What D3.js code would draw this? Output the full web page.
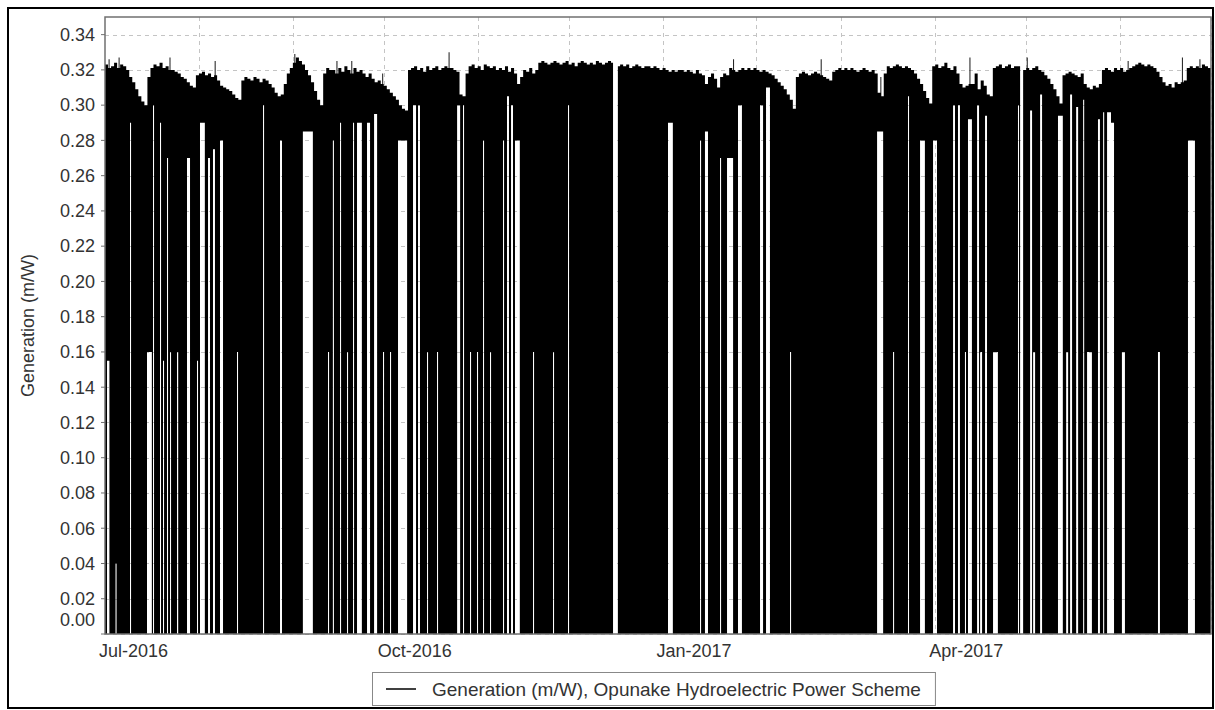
<!DOCTYPE html>
<html>
<head>
<meta charset="utf-8">
<script src="https://cdn.jsdelivr.net/npm/d3@7/dist/d3.min.js"></script>
<style>
  body { margin: 0; background: #fff; }
  text { font-family: "Liberation Sans", Arial, sans-serif; }
</style>
</head>
<body>
<svg id="chart" width="1215" height="710"></svg>
<script>
// daily peak generation (MW), one value per day from 1 Jul 2016
const peak = [
  0.323,0.321,0.322,0.324,0.321,0.323,0.322,0.320,0.316,0.313,
  0.309,0.305,0.302,0.300,0.316,0.321,0.323,0.322,0.324,0.321,
  0.322,0.320,0.320,0.319,0.318,0.316,0.315,0.313,0.311,0.310,
  0.317,0.318,0.319,0.317,0.318,0.316,0.317,0.314,0.311,0.310,
  0.309,0.308,0.306,0.304,0.303,0.314,0.316,0.315,0.314,0.316,
  0.315,0.313,0.315,0.314,0.312,0.310,0.307,0.305,0.306,0.312,
  0.318,0.321,0.324,0.327,0.325,0.323,0.320,0.317,0.313,0.308,
  0.303,0.300,0.318,0.321,0.320,0.320,0.318,0.321,0.319,0.322,
  0.320,0.318,0.321,0.319,0.320,0.318,0.316,0.318,0.315,0.313,
  0.314,0.312,0.311,0.309,0.307,0.305,0.303,0.300,0.298,0.297,
  0.320,0.321,0.322,0.320,0.321,0.319,0.322,0.320,0.321,0.322,
  0.320,0.321,0.322,0.321,0.321,0.320,0.319,0.306,0.305,0.318,
  0.322,0.323,0.321,0.322,0.320,0.323,0.322,0.321,0.322,0.320,
  0.321,0.320,0.322,0.319,0.321,0.318,0.312,0.316,0.320,0.319,
  0.321,0.318,0.320,0.324,0.325,0.324,0.323,0.324,0.325,0.324,
  0.323,0.324,0.325,0.323,0.324,0.322,0.324,0.325,0.324,0.323,
  0.324,0.323,0.325,0.324,0.323,0.324,0.325,0.324,0.323,0.322,
  0.323,0.322,0.323,0.321,0.322,0.323,0.322,0.321,0.322,0.322,
  0.321,0.322,0.321,0.320,0.321,0.320,0.319,0.320,0.319,0.320,
  0.320,0.319,0.320,0.319,0.318,0.320,0.318,0.317,0.312,0.316,
  0.318,0.315,0.310,0.316,0.318,0.317,0.321,0.320,0.319,0.320,
  0.321,0.320,0.321,0.320,0.321,0.320,0.319,0.320,0.319,0.318,
  0.317,0.315,0.313,0.311,0.309,0.306,0.303,0.298,0.316,0.318,
  0.319,0.318,0.317,0.318,0.319,0.318,0.317,0.316,0.315,0.314,
  0.319,0.320,0.321,0.320,0.321,0.320,0.321,0.320,0.319,0.320,
  0.321,0.320,0.319,0.320,0.318,0.307,0.305,0.318,0.322,0.321,
  0.322,0.323,0.322,0.321,0.322,0.321,0.320,0.318,0.315,0.312,
  0.308,0.304,0.301,0.322,0.323,0.321,0.322,0.324,0.321,0.320,
  0.322,0.318,0.312,0.310,0.311,0.312,0.312,0.318,0.309,0.314,
  0.311,0.306,0.305,0.321,0.322,0.323,0.321,0.322,0.323,0.321,
  0.322,0.322,0.321,0.320,0.321,0.320,0.321,0.322,0.320,0.319,
  0.317,0.315,0.312,0.309,0.305,0.301,0.317,0.318,0.319,0.318,
  0.317,0.316,0.318,0.312,0.310,0.309,0.311,0.310,0.312,0.320,
  0.321,0.320,0.319,0.321,0.320,0.321,0.319,0.320,0.321,0.322,
  0.323,0.324,0.323,0.322,0.323,0.322,0.321,0.319,0.316,0.313,
  0.311,0.312,0.310,0.313,0.312,0.313,0.314,0.321,0.322,0.321,
  0.322,0.321,0.323,0.322,0.321
];

// short peaks above the daily level: day (after 1 Jul 2016) and value (MW)
const spikeDay = [1.2,4.5,21.3,36.2,62.5,76.4,81.3,91.5,113.4,207.3,236.2,255.9,285.3,304.2,337.5,355.4,361.2];
const spikeVal = [0.326,0.327,0.327,0.325,0.329,0.325,0.325,0.318,0.330,0.326,0.326,0.316,0.327,0.327,0.325,0.327,0.326];

// periods where output did not fall to zero: start (days after 1 Jul 2016), length (days), lowest level (MW); null = no data
const gapStart = [0.66,3.47,8.25,13.86,15.84,18.15,19.14,20.46,21.45,23.76,27.06,30.36,31.35,34.0,35.64,37.95,43.56,52.15,57.76,65.3,
  73.6,75.2,77.56,79.87,81.85,83.17,86.47,88.8,91.75,94.06,96.7,101.65,103.3,106.27,109.57,116.2,118.15,120.46,122.77,124.75,
  127.06,131.35,132.67,134.0,135.3,141.25,147.85,152.8,167.66,185.8,196.37,198.0,202.97,205.28,208.9,216.17,218.15,226.07,254.8,260.07,
  265.0,268.98,273.27,279.87,281.5,283.8,284.8,287.8,288.8,290.43,293.07,301.3,302.0,305.3,306.3,308.6,314.5,317.2,318.5,320.5,
  322.8,324.1,327.7,329.4,330.7,332.0,335.6,347.5,357.4];
const gapLen = [0.8,0.35,0.35,1.6,0.35,0.35,0.35,0.35,0.35,0.4,1.0,0.35,1.6,0.65,0.65,1.0,0.35,0.35,0.65,3.3,
  0.35,0.35,0.35,0.35,0.35,1.6,1.0,1.0,0.35,0.35,3.0,1.0,0.65,0.35,0.35,1.0,0.35,0.35,0.35,0.35,
  0.35,0.35,0.65,0.65,1.6,0.35,0.35,0.35,1.6,1.6,0.35,1.0,0.35,2.0,1.3,1.0,1.3,0.35,2.0,0.35,
  0.35,1.6,1.3,0.65,0.65,0.35,1.3,0.65,0.65,0.65,1.6,0.35,1.0,0.65,0.65,0.65,1.6,0.65,0.65,0.65,
  0.35,1.6,0.65,0.35,1.6,1.0,1.0,0.65,2.3];
const gapFloor = [0.155,0.040,0.290,0.160,0.300,0.290,0.155,0.270,0.160,0.160,0.270,0.155,0.290,0.270,0.275,0.280,0.160,0.300,0.280,0.285,
  0.160,0.280,0.290,0.160,0.290,0.290,0.290,0.295,0.160,0.160,0.280,0.300,0.300,0.160,0.160,0.300,0.300,0.160,0.160,0.280,
  0.160,0.280,0.305,0.300,0.280,0.160,0.160,0.300,null,0.290,0.280,0.285,0.270,0.270,0.300,0.300,0.310,0.160,0.285,0.160,
  0.305,0.280,0.280,0.300,0.300,0.160,0.292,0.300,0.160,0.294,0.160,0.300,null,0.297,0.160,0.306,0.294,0.160,0.306,0.299,
  0.303,0.160,0.292,0.296,0.296,0.290,0.160,0.160,0.280];

const yTicks = [0,0.02,0.04,0.06,0.08,0.10,0.12,0.14,0.16,0.18,0.20,0.22,0.24,0.26,0.28,0.30,0.32,0.34];
const xTickDates = ["2016-07-01","2016-10-01","2017-01-01","2017-04-01"];
const xTickLabels = ["Jul-2016","Oct-2016","Jan-2017","Apr-2017"];
const seriesName = "Generation (m/W), Opunake Hydroelectric Power Scheme";

const svg = d3.select("#chart");
const plotL = 105, plotR = 1211, plotT = 17, plotB = 634;
const t0 = Date.UTC(2016, 6, 1), DAY = 86400000;
const spikeW = 0.3;

const x = d3.scaleUtc().domain([new Date(t0), new Date(Date.UTC(2017, 6, 1))]).range([plotL, plotR]);
const y = d3.scaleLinear().domain([0, 0.35]).range([plotB, plotT]);
const xd = d => x(new Date(t0 + d * DAY));

// outer frame
svg.append("rect").attr("width", 1215).attr("height", 710).attr("fill", "#fff");
svg.append("rect").attr("x", 8).attr("y", 8).attr("width", 1205).attr("height", 700)
  .attr("fill", "none").attr("stroke", "#000").attr("stroke-width", 2);

// grid
svg.append("g").selectAll("line").data(yTicks).join("line")
  .attr("x1", plotL).attr("x2", plotR)
  .attr("y1", d => Math.round(y(d)) + 0.5).attr("y2", d => Math.round(y(d)) + 0.5)
  .attr("stroke", "#c4c4c4").attr("stroke-dasharray", "4,4");
svg.append("g").selectAll("line").data(x.ticks(d3.utcMonth.every(1)).slice(1)).join("line")
  .attr("x1", d => Math.round(x(d)) + 0.5).attr("x2", d => Math.round(x(d)) + 0.5)
  .attr("y1", plotT).attr("y2", plotB)
  .attr("stroke", "#c4c4c4").attr("stroke-dasharray", "4,4");

// build min/max intervals from the daily peaks, spikes and the gap list
let cuts = d3.range(0, peak.length + 1);
gapStart.forEach((s, i) => { cuts.push(s, s + gapLen[i]); });
spikeDay.forEach(s => { cuts.push(s, s + spikeW); });
cuts = Array.from(new Set(cuts.map(c => +c.toFixed(3)))).sort((a, b) => a - b);
const pts = [];
for (let i = 0; i < cuts.length - 1; i++) {
  const a = cuts[i], b = cuts[i + 1], m = (a + b) / 2;
  let hi = peak[Math.min(peak.length - 1, Math.floor(m))];
  spikeDay.forEach((s, k) => { if (m > s && m < s + spikeW) hi = spikeVal[k]; });
  let lo = 0, ok = true;
  gapStart.forEach((s, k) => {
    if (m > s && m < s + gapLen[k]) {
      if (gapFloor[k] === null) ok = false;
      else lo = Math.min(gapFloor[k], hi - 0.004);
    }
  });
  pts.push({ t: a, lo, hi, ok }, { t: b, lo, hi, ok });
}

const area = d3.area()
  .defined(d => d.ok)
  .x(d => xd(d.t))
  .y0(d => y(d.lo))
  .y1(d => y(d.hi));

svg.append("path").datum(pts).attr("d", area).attr("fill", "#000");

// plot frame
svg.append("rect").attr("x", plotL).attr("y", plotT).attr("width", plotR - plotL).attr("height", plotB - plotT)
  .attr("fill", "none").attr("stroke", "#707070").attr("stroke-width", 1.5);

// y axis
const ya = svg.append("g");
ya.selectAll("line").data(yTicks).join("line")
  .attr("x1", plotL - 4).attr("x2", plotL)
  .attr("y1", d => y(d)).attr("y2", d => y(d))
  .attr("stroke", "#707070");
ya.selectAll("text").data(yTicks).join("text")
  .attr("x", 95).attr("y", d => y(d) + (d === 0 ? -14 : 0))
  .attr("dy", "0.35em").attr("text-anchor", "end")
  .attr("font-size", 18).attr("fill", "#333")
  .text(d => d3.format(".2f")(d));

svg.append("text")
  .attr("transform", `translate(28,${(plotT + plotB) / 2}) rotate(-90)`)
  .attr("text-anchor", "middle").attr("dy", "0.35em")
  .attr("font-size", 18).attr("fill", "#333")
  .text("Generation (m/W)");

// x axis labels
svg.append("g").selectAll("text").data(xTickDates).join("text")
  .attr("x", d => x(new Date(d + "T00:00:00Z")) - 6)
  .attr("y", 657)
  .attr("font-size", 18).attr("fill", "#333")
  .text((d, i) => xTickLabels[i]);

// legend
const lg = svg.append("g");
const lgText = lg.append("text").attr("x", 432).attr("y", 689).attr("dy", "0.35em")
  .attr("font-size", 19).attr("fill", "#333").text(seriesName);
const tw = lgText.node().getComputedTextLength();
lg.insert("rect", "text").attr("x", 372.5).attr("y", 672.5).attr("width", 60 + tw + 14).attr("height", 33)
  .attr("fill", "#fff").attr("stroke", "#888");
lg.append("line").attr("x1", 386).attr("x2", 416).attr("y1", 689).attr("y2", 689)
  .attr("stroke", "#000").attr("stroke-width", 1.5);
</script>
</body>
</html>
